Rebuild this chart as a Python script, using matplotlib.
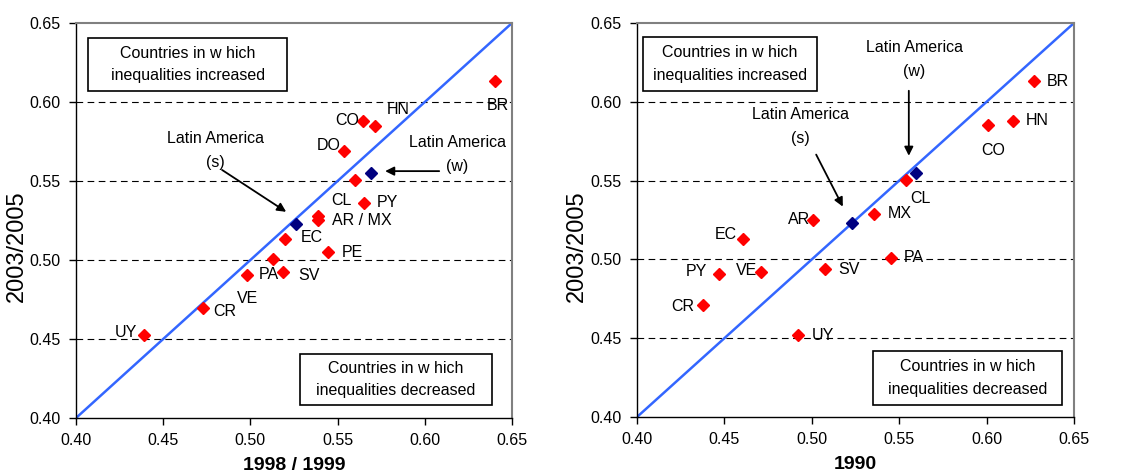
import matplotlib
matplotlib.use("Agg")
import matplotlib.pyplot as plt
from matplotlib.patches import Rectangle
import numpy as np

plt.rcParams.update({
    "font.family": ["Liberation Sans", "DejaVu Sans"],
    "font.size": 11.5,
})

RED = "#ff0000"
NAVY = "#000080"
LINE = "#3366ff"

# ---- data: Gini coefficients, x = base period, y = 2003/2005
left_names = ["BR", "CO", "HN", "DO", "CL", "PY", "AR / MX", "MX", "EC",
              "PE", "PA", "SV", "VE", "CR", "UY"]
left_x = [0.640, 0.5645, 0.5715, 0.5537, 0.560, 0.565, 0.539, 0.539, 0.520,
          0.5445, 0.513, 0.5186, 0.498, 0.473, 0.439]
left_y = [0.613, 0.588, 0.585, 0.569, 0.5506, 0.536, 0.528, 0.5255, 0.513,
          0.505, 0.5006, 0.4924, 0.4905, 0.4696, 0.4525]
left_la_x = [0.526, 0.569]   # Latin America (s), (w)
left_la_y = [0.523, 0.555]

right_names = ["BR", "HN", "CO", "CL", "MX", "AR", "EC", "PY", "VE", "SV",
               "PA", "CR", "UY"]
right_x = [0.627, 0.615, 0.601, 0.554, 0.5356, 0.5007, 0.4606, 0.447, 0.471,
           0.5076, 0.5453, 0.438, 0.492]
right_y = [0.613, 0.588, 0.585, 0.5506, 0.529, 0.5247, 0.513, 0.4905, 0.492,
           0.4937, 0.501, 0.471, 0.452]
right_la_x = [0.523, 0.5596]
right_la_y = [0.523, 0.555]

ticks = [0.40, 0.45, 0.50, 0.55, 0.60, 0.65]

# label placement: (dx, dy) in pixels, horizontal alignment
left_lab = {
    "BR": (3, -24, "center"), "CO": (-4, 0, "right"), "HN": (23, 16, "center"),
    "DO": (-3, 5, "right"), "CL": (-14, -20, "center"), "PY": (13, 1, "left"),
    "AR / MX": (14, -5, "left"), "MX": None, "EC": (15, 2, "left"),
    "PE": (14, 0, "left"), "PA": (-4, -15, "center"), "SV": (15, -3, "left"),
    "VE": (1, -23, "center"), "CR": (10, -3, "left"), "UY": (-7, 3, "right"),
}
right_lab = {
    "BR": (13, 0, "left"), "HN": (13, 0, "left"), "CO": (5, -25, "center"),
    "CL": (14, -19, "center"), "MX": (14, 0, "left"), "AR": (-3, 1, "right"),
    "EC": (-6, 4, "right"), "PY": (-12, 3, "right"), "VE": (-4, 2, "right"),
    "SV": (13, 0, "left"), "PA": (13, 0, "left"), "CR": (-9, -1, "right"),
    "UY": (14, 0, "left"),
}

fig = plt.figure(figsize=(11.42, 4.75), dpi=100)
ax1 = fig.add_axes([76 / 1142, 57 / 475, 436 / 1142, 395 / 475])
ax2 = fig.add_axes([637 / 1142, 58 / 475, 437 / 1142, 394 / 475])


def setup(ax, xlabel):
    ax.set_xlim(0.40, 0.65)
    ax.set_ylim(0.40, 0.65)
    ax.set_xticks(ticks)
    ax.set_yticks(ticks)
    ax.set_xticklabels([f"{t:.2f}" for t in ticks], fontsize=11.5)
    ax.set_yticklabels([f"{t:.2f}" for t in ticks], fontsize=11.5)
    ax.tick_params(direction="out", length=5, width=1, pad=6)
    for t in ticks[1:-1]:
        ax.axhline(t, color="black", lw=0.8, ls=(0, (6, 4)), zorder=1)
    ax.plot([0.40, 0.65], [0.40, 0.65], color=LINE, lw=1.8, zorder=2)
    for s in ("top", "right"):
        ax.spines[s].set_color("#808080")
        ax.spines[s].set_linewidth(1.5)
    for s in ("left", "bottom"):
        ax.spines[s].set_color("black")
        ax.spines[s].set_linewidth(1)
    ax.set_ylabel("2003/2005", fontsize=17)
    ax.set_xlabel(xlabel, fontsize=14, fontweight="bold", va="top")
    ax.xaxis.set_label_coords(0.5, -0.1)


def box(ax, cx, cy, w, h, text):
    ax.add_patch(Rectangle((cx - w / 2, cy - h / 2), w, h, transform=ax.transAxes,
                           fc="white", ec="black", lw=1.2, zorder=3))
    ax.text(cx, cy, text, transform=ax.transAxes, ha="center", va="center",
            linespacing=1.6, zorder=4)


def arrow(ax, start, end):
    ax.annotate("", xy=end, xytext=start, xycoords="axes fraction",
                textcoords="axes fraction",
                arrowprops=dict(arrowstyle="-|>", color="black", lw=1.3,
                                mutation_scale=13, shrinkA=0, shrinkB=0))


def points(ax, names, xs, ys, la_x, la_y, labels):
    ax.plot(xs, ys, ls="none", marker="D", ms=6, color=RED, mec=RED, zorder=5)
    ax.plot(la_x, la_y, ls="none", marker="D", ms=6, color=NAVY, mec=NAVY,
            zorder=5)
    for n, x, y in zip(names, xs, ys):
        lab = labels.get(n)
        if lab is None:
            continue
        dx, dy, ha = lab
        ax.annotate(n, (x, y), xytext=(dx, dy), textcoords="offset pixels",
                    ha=ha, va="center", fontsize=11.5, zorder=6)


# ---- left panel
setup(ax1, "1998 / 1999")
ax1.yaxis.set_label_coords(-0.11, 0.434)
points(ax1, left_names, left_x, left_y, left_la_x, left_la_y, left_lab)
box(ax1, 0.256, 0.895, 199 / 436, 53 / 395,
    "Countries in w hich\ninequalities increased")
box(ax1, 0.734, 0.0975, 192 / 436, 51 / 395,
    "Countries in w hich\ninequalities decreased")
ax1.text(0.319, 0.676, "Latin America\n(s)", transform=ax1.transAxes,
         ha="center", va="center", linespacing=1.75)
arrow(ax1, (0.335, 0.628), (0.482, 0.522))
ax1.text(0.874, 0.668, "Latin America\n(w)", transform=ax1.transAxes,
         ha="center", va="center", linespacing=1.75)
arrow(ax1, (0.833, 0.625), (0.709, 0.625))

# ---- right panel
setup(ax2, "1990")
ax2.yaxis.set_label_coords(-0.112, 0.434)
points(ax2, right_names, right_x, right_y, right_la_x, right_la_y, right_lab)
box(ax2, 0.213, 0.896, 174 / 437, 54 / 394,
    "Countries in w hich\ninequalities increased")
box(ax2, 0.756, 0.099, 189 / 437, 54 / 394,
    "Countries in w hich\ninequalities decreased")
ax2.text(0.634, 0.908, "Latin America\n(w)", transform=ax2.transAxes,
         ha="center", va="center", linespacing=1.75)
arrow(ax2, (0.622, 0.828), (0.622, 0.663))
ax2.text(0.373, 0.737, "Latin America\n(s)", transform=ax2.transAxes,
         ha="center", va="center", linespacing=1.75)
arrow(ax2, (0.410, 0.666), (0.471, 0.534))

fig.savefig("out.png", dpi=100)
